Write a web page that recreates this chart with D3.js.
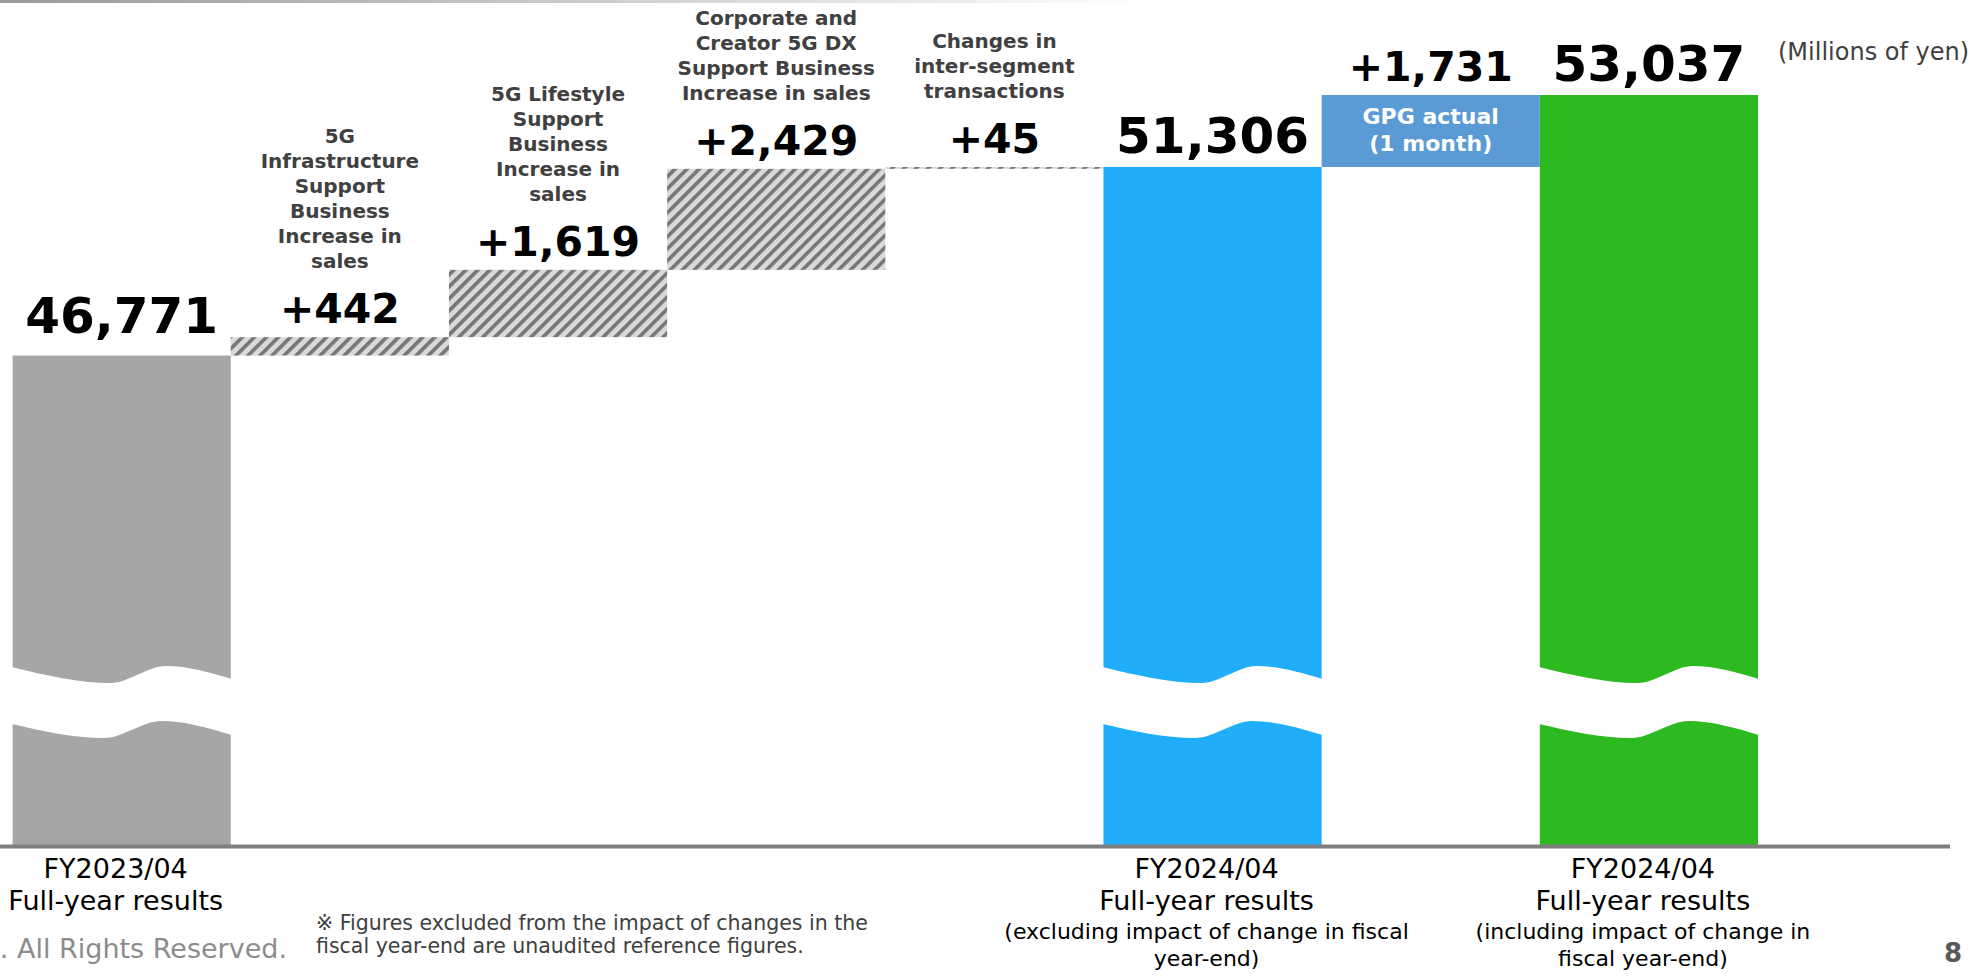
<!DOCTYPE html>
<html>
<head>
<meta charset="utf-8">
<script src="https://cdn.jsdelivr.net/npm/d3@7/dist/d3.min.js"></script>
<style>
  html, body { margin: 0; padding: 0; background: #ffffff; }
  svg { display: block; font-family: "DejaVu Sans", Verdana, sans-serif; }
</style>
</head>
<body>
<svg id="chart" width="1980" height="976"></svg>
<script>
// ---- data ----
const categories = ["fy2023", "infra", "lifestyle", "dx", "intersegment", "fy2024Excl", "gpg", "fy2024Incl"];
const stepKinds = ["total", "delta", "delta", "delta", "delta", "total", "delta", "total"];
const values = [46771, 442, 1619, 2429, 45, 51306, 1731, 53037];
const valueLabels = ["46,771", "+442", "+1,619", "+2,429", "+45", "51,306", "+1,731", "53,037"];
const segmentLabels = [
  [],
  ["5G", "Infrastructure", "Support", "Business", "Increase in", "sales"],
  ["5G Lifestyle", "Support", "Business", "Increase in", "sales"],
  ["Corporate and", "Creator 5G DX", "Support Business", "Increase in sales"],
  ["Changes in", "inter-segment", "transactions"],
  [],
  [],
  []
];
const insideLabels = [[], [], [], [], [], [], ["GPG actual", "(1 month)"], []];
const axisTitles = [
  ["FY2023/04", "Full-year results"], [], [], [], [],
  ["FY2024/04", "Full-year results"], [],
  ["FY2024/04", "Full-year results"]
];
const axisNotes = [
  [], [], [], [], [],
  ["(excluding impact of change in fiscal", "year-end)"], [],
  ["(including impact of change in", "fiscal year-end)"]
];
const unitLabel = "(Millions of yen)";
const footnoteLines = [
  "\u203B Figures excluded from the impact of changes in the",
  "fiscal year-end are unaudited reference figures."
];
const copyrightText = ". All Rights Reserved.";
const pageNumber = "8";
const axisFloor = 35000; // value shown at the axis line (axis is broken)

// ---- layout ----
const plotLeft = 12.6, plotRight = 1758;
const axisY = 845, topY = 95;

const svg = d3.select("#chart");

const x = d3.scaleBand().domain(categories).range([plotLeft, plotRight]).paddingInner(0).paddingOuter(0);
const y = d3.scaleLinear().domain([axisFloor, d3.max(values)]).range([axisY, topY]);

// waterfall steps
let running = 0;
const steps = categories.map((c, i) => {
  let lo, hi;
  if (stepKinds[i] === "total") { lo = axisFloor; hi = values[i]; running = values[i]; }
  else { lo = running; hi = running + values[i]; running = hi; }
  return { key: c, i, kind: stepKinds[i], lo, hi };
});

const fillFor = d => {
  if (d.key === "fy2023") return "#a6a6a6";
  if (d.key === "fy2024Excl") return "#20adfa";
  if (d.key === "fy2024Incl") return "#2db920";
  if (d.key === "gpg") return "#5b9bd5";
  return "url(#hatch)";
};

// defs: hatch pattern, top rule gradient
const defs = svg.append("defs");
const pat = defs.append("pattern")
  .attr("id", "hatch").attr("patternUnits", "userSpaceOnUse")
  .attr("width", 8.5).attr("height", 8.5)
  .attr("patternTransform", "rotate(45)");
pat.append("rect").attr("width", 8.5).attr("height", 8.5).attr("fill", "#d9d9d9");
pat.append("rect").attr("width", 3.6).attr("height", 8.5).attr("fill", "#767676");

const grad = defs.append("linearGradient").attr("id", "topRule")
  .attr("x1", "0%").attr("x2", "100%").attr("y1", "0%").attr("y2", "0%");
grad.append("stop").attr("offset", "0%").attr("stop-color", "#9a9a9a");
grad.append("stop").attr("offset", "55%").attr("stop-color", "#d0d0d0");
grad.append("stop").attr("offset", "100%").attr("stop-color", "#ffffff");

svg.append("rect").attr("x", 0).attr("y", 0).attr("width", 1150).attr("height", 3)
  .attr("fill", "url(#topRule)");

// bars
svg.append("g").selectAll("rect").data(steps).join("rect")
  .attr("x", d => x(d.key))
  .attr("y", d => y(d.hi))
  .attr("width", x.bandwidth())
  .attr("height", d => Math.max(0, y(d.lo) - y(d.hi)))
  .attr("fill", fillFor);

// axis-break waves on the total bars
const waveTop = [[0, 0], [0.45, 16], [0.7, -1], [1, 12]];
const waveBottom = [[0, 57], [0.42, 71], [0.68, 54], [1, 68]];
const breakTop = axisY - 178;
const waveLine = d3.line().curve(d3.curveMonotoneX);
svg.append("g").selectAll("path").data(steps.filter(d => d.kind === "total")).join("path")
  .attr("fill", "#ffffff")
  .attr("d", d => {
    const x0 = x(d.key) - 1, w = x.bandwidth() + 2;
    const top = waveTop.map(([f, dy]) => [x0 + f * w, breakTop + dy]);
    const bottom = waveBottom.map(([f, dy]) => [x0 + f * w, breakTop + dy]).reverse();
    const a = waveLine(top);
    const b = waveLine(bottom);
    return a + "L" + b.slice(1) + "Z";
  });

// axis line
svg.append("line").attr("x1", 0).attr("x2", 1950).attr("y1", axisY + 1.5).attr("y2", axisY + 1.5)
  .attr("stroke", "#7f7f7f").attr("stroke-width", 4);

// value labels
const cx = d => x(d.key) + x.bandwidth() / 2;
const valueBase = d => y(d.hi) - (d.i === 0 ? 23 : 14);
svg.append("g").selectAll("text").data(steps).join("text")
  .attr("x", cx)
  .attr("y", valueBase)
  .attr("text-anchor", "middle")
  .attr("font-weight", "bold")
  .attr("font-size", d => d.kind === "total" ? 50 : 41)
  .attr("fill", "#000000")
  .text(d => valueLabels[d.i]);

// segment descriptions above the step labels
const segG = svg.append("g");
steps.forEach(d => {
  const lines = segmentLabels[d.i];
  if (!lines.length) return;
  const lastBase = valueBase(d) - 55;
  lines.forEach((t, k) => {
    segG.append("text")
      .attr("x", cx(d))
      .attr("y", lastBase - (lines.length - 1 - k) * 25)
      .attr("text-anchor", "middle")
      .attr("font-weight", "bold")
      .attr("font-size", 20)
      .attr("fill", "#404040")
      .text(t);
  });
});

// labels inside bars
steps.forEach(d => {
  const lines = insideLabels[d.i];
  if (!lines.length) return;
  const mid = (y(d.hi) + y(d.lo)) / 2;
  lines.forEach((t, k) => {
    svg.append("text")
      .attr("x", cx(d))
      .attr("y", mid - 7 + k * 27)
      .attr("text-anchor", "middle")
      .attr("font-weight", "bold")
      .attr("font-size", 22)
      .attr("fill", "#ffffff")
      .text(t);
  });
});

// category labels under the axis
steps.forEach(d => {
  const titles = axisTitles[d.i];
  titles.forEach((t, k) => {
    svg.append("text")
      .attr("x", cx(d) - 6)
      .attr("y", axisY + 33 + k * 32)
      .attr("text-anchor", "middle")
      .attr("font-size", 27)
      .attr("fill", "#000000")
      .text(t);
  });
  axisNotes[d.i].forEach((t, k) => {
    svg.append("text")
      .attr("x", cx(d) - 6)
      .attr("y", axisY + 33 + titles.length * 32 - 3 + k * 27)
      .attr("text-anchor", "middle")
      .attr("font-size", 22)
      .attr("fill", "#000000")
      .text(t);
  });
});

// unit
svg.append("text").attr("x", 1778).attr("y", 60)
  .attr("font-size", 24).attr("fill", "#404040").text(unitLabel);

// footnote
footnoteLines.forEach((t, k) => {
  svg.append("text").attr("x", 316).attr("y", 930 + k * 23)
    .attr("font-size", 20.5).attr("fill", "#404040").text(t);
});

// copyright and page number
svg.append("text").attr("x", 287).attr("y", 958).attr("text-anchor", "end")
  .attr("font-size", 27).attr("fill", "#8c8c8c").text(copyrightText);
svg.append("text").attr("x", 1953).attr("y", 962).attr("text-anchor", "middle")
  .attr("font-size", 26).attr("font-weight", "bold").attr("fill", "#595959").text(pageNumber);
</script>
</body>
</html>
